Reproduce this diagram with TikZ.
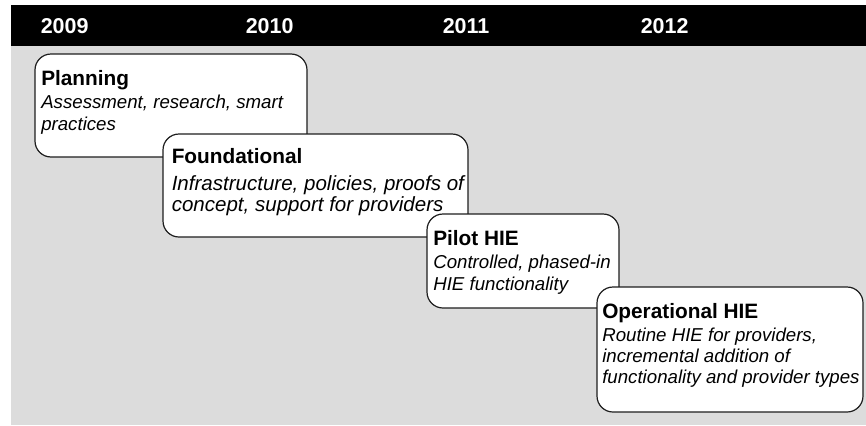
\documentclass[tikz,border=0pt]{standalone}
\usepackage{fontspec}
\setmainfont{Liberation Sans}
\definecolor{bggray}{HTML}{DCDCDC}
\definecolor{edge}{HTML}{1E1E1E}
\tikzset{
  phasebox/.style={draw=edge, line width=0.9pt, fill=white, rounded corners=12pt,
    inner sep=0pt, outer sep=0pt, anchor=north west},
  yeartext/.style={text=white, font=\fontsize{16.1pt}{18pt}\selectfont\bfseries,
    anchor=base west, inner sep=0pt},
  headtext/.style={font=\fontsize{15.6pt}{18pt}\selectfont\bfseries,
    anchor=base west, inner sep=0pt},
  desctext/.style={font=\fontsize{14pt}{16pt}\selectfont\itshape,
    anchor=base west, inner sep=0pt},
  desclarge/.style={font=\fontsize{15.4pt}{17pt}\selectfont\itshape,
    anchor=base west, inner sep=0pt}
}
\begin{document}
\begin{tikzpicture}[x=0.75pt, y=-0.75pt]
\useasboundingbox (0,0) rectangle (866,425);
% background
\fill[bggray] (11,46) rectangle (866,425);
\fill[black] (11,5) rectangle (866,46);
% years
\node[yeartext] (y09) at (40.5,33) {2009};
\node[yeartext] (y10) at (245.5,33) {2010};
\node[yeartext] (y11) at (442.5,33) {2011};
\node[yeartext] (y12) at (640.5,33) {2012};
% Planning
\node[phasebox, minimum width=204pt, minimum height=77.25pt] (plan) at (35,54) {};
\node[headtext] (planH) at (41,85.7) {Planning};
\node[desctext] (planA) at (41,108.3) {Assessment, research, smart};
\node[desctext] (planB) at (41,130.7) {practices};
% Foundational
\node[phasebox, minimum width=228.75pt, minimum height=77.25pt] (found) at (163,134) {};
\node[headtext] (foundH) at (171.5,163.3) {Foundational};
\node[desclarge] (foundA) at (171.5,190) {Infrastructure, policies, proofs of};
\node[desclarge] (foundB) at (171.5,211.7) {concept, support for providers};
% Pilot
\node[phasebox, minimum width=144pt, minimum height=70.5pt] (pilot) at (427,214) {};
\node[headtext] (pilotH) at (433,245) {Pilot HIE};
\node[desctext] (pilotA) at (433,268) {Controlled, phased-in};
\node[desctext] (pilotB) at (433,290) {HIE functionality};
% Operational
\node[phasebox, minimum width=199.5pt, minimum height=93.75pt] (oper) at (597,287) {};
\node[headtext] (operH) at (602,318) {Operational HIE};
\node[desctext] (operA) at (602,341.5) {Routine HIE for providers,};
\node[desctext] (operB) at (602,362) {incremental addition of};
\node[desctext] (operC) at (602,383) {functionality and provider types};
\end{tikzpicture}
\end{document}
